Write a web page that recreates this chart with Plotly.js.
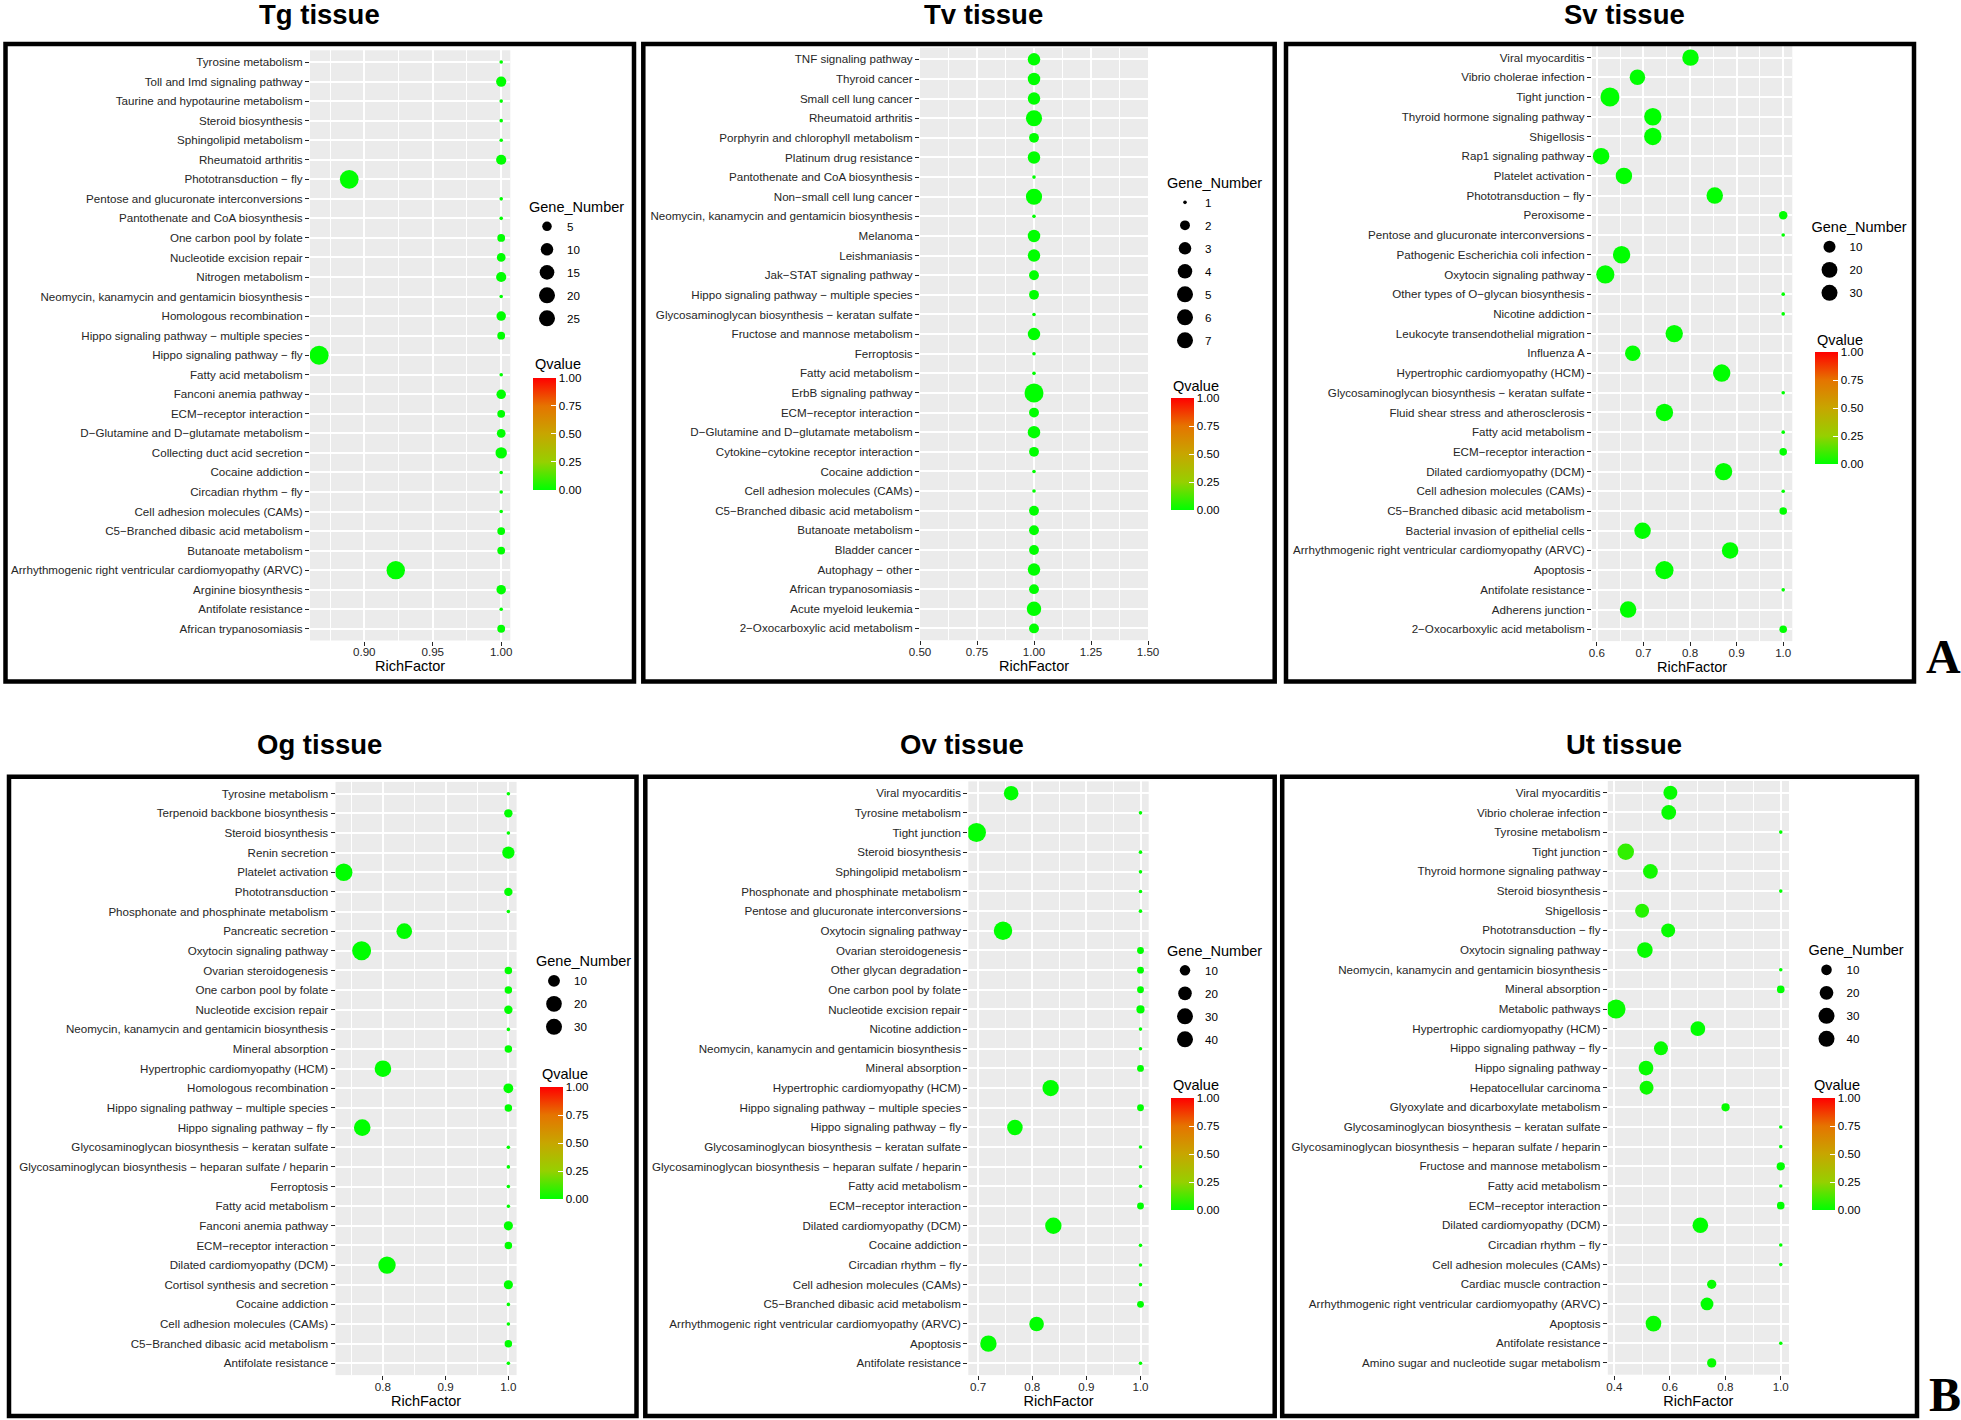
<!DOCTYPE html>
<html>
<head>
<meta charset="utf-8">
<script src="https://cdn.plot.ly/plotly-3.0.1.min.js"></script>
<style>body{margin:0;background:#fff;}</style>
</head>
<body>
<div id="chart" style="width:1961px;height:1420px"></div>
<script>
// ---- Tg tissue ----
var tgPathways = ["Tyrosine metabolism","Toll and Imd signaling pathway","Taurine and hypotaurine metabolism","Steroid biosynthesis","Sphingolipid metabolism","Rheumatoid arthritis","Phototransduction \u2212 fly","Pentose and glucuronate interconversions","Pantothenate and CoA biosynthesis","One carbon pool by folate","Nucleotide excision repair","Nitrogen metabolism","Neomycin, kanamycin and gentamicin biosynthesis","Homologous recombination","Hippo signaling pathway \u2212 multiple species","Hippo signaling pathway \u2212 fly","Fatty acid metabolism","Fanconi anemia pathway","ECM\u2212receptor interaction","D\u2212Glutamine and D\u2212glutamate metabolism","Collecting duct acid secretion","Cocaine addiction","Circadian rhythm \u2212 fly","Cell adhesion molecules (CAMs)","C5\u2212Branched dibasic acid metabolism","Butanoate metabolism","Arrhythmogenic right ventricular cardiomyopathy (ARVC)","Arginine biosynthesis","Antifolate resistance","African trypanosomiasis"];
var tgRich = [1,1,1,1,1,1,0.889,1,1,1,1,1,1,1,1,0.867,1,1,1,1,1,1,1,1,1,1,0.923,1,1,1];
var tgGenes = [1,6,1,1,1,6,27,1,1,3,4,6,1,5,3,28,1,5,3,4,8,1,1,1,3,3,26,5,1,3];
var tgQ = [0,0,0,0,0,0,0,0,0,0,0,0,0,0,0,0,0,0,0,0,0,0,0,0,0,0,0,0,0,0];
var tgBreaks = [5,10,15,20,25];

// ---- Tv tissue ----
var tvPathways = ["TNF signaling pathway","Thyroid cancer","Small cell lung cancer","Rheumatoid arthritis","Porphyrin and chlorophyll metabolism","Platinum drug resistance","Pantothenate and CoA biosynthesis","Non\u2212small cell lung cancer","Neomycin, kanamycin and gentamicin biosynthesis","Melanoma","Leishmaniasis","Jak\u2212STAT signaling pathway","Hippo signaling pathway \u2212 multiple species","Glycosaminoglycan biosynthesis \u2212 keratan sulfate","Fructose and mannose metabolism","Ferroptosis","Fatty acid metabolism","ErbB signaling pathway","ECM\u2212receptor interaction","D\u2212Glutamine and D\u2212glutamate metabolism","Cytokine\u2212cytokine receptor interaction","Cocaine addiction","Cell adhesion molecules (CAMs)","C5\u2212Branched dibasic acid metabolism","Butanoate metabolism","Bladder cancer","Autophagy \u2212 other","African trypanosomiasis","Acute myeloid leukemia","2\u2212Oxocarboxylic acid metabolism"];
var tvRich = [1,1,1,1,1,1,1,1,1,1,1,1,1,1,1,1,1,1,1,1,1,1,1,1,1,1,1,1,1,1];
var tvGenes = [3,3,3,5,2,3,1,5,1,3,3,2,2,1,3,1,1,7,2,3,2,1,1,2,2,2,3,2,4,2];
var tvQ = [0,0,0,0,0,0,0,0,0,0,0,0,0,0,0,0,0,0,0,0,0,0,0,0,0,0,0,0,0,0];
var tvBreaks = [1,2,3,4,5,6,7];

// ---- Sv tissue ----
var svPathways = ["Viral myocarditis","Vibrio cholerae infection","Tight junction","Thyroid hormone signaling pathway","Shigellosis","Rap1 signaling pathway","Platelet activation","Phototransduction \u2212 fly","Peroxisome","Pentose and glucuronate interconversions","Pathogenic Escherichia coli infection","Oxytocin signaling pathway","Other types of O\u2212glycan biosynthesis","Nicotine addiction","Leukocyte transendothelial migration","Influenza A","Hypertrophic cardiomyopathy (HCM)","Glycosaminoglycan biosynthesis \u2212 keratan sulfate","Fluid shear stress and atherosclerosis","Fatty acid metabolism","ECM\u2212receptor interaction","Dilated cardiomyopathy (DCM)","Cell adhesion molecules (CAMs)","C5\u2212Branched dibasic acid metabolism","Bacterial invasion of epithelial cells","Arrhythmogenic right ventricular cardiomyopathy (ARVC)","Apoptosis","Antifolate resistance","Adherens junction","2\u2212Oxocarboxylic acid metabolism"];
var svRich = [0.801,0.687,0.628,0.720,0.720,0.609,0.658,0.853,1,1,0.653,0.618,1,1,0.766,0.677,0.868,1,0.745,1,1,0.872,1,1,0.698,0.886,0.745,1,0.667,1];
var svGenes = [22,19,31,25,25,22,22,22,4,1,25,28,1,1,25,19,25,1,25,1,3,25,1,3,22,22,28,1,22,3];
var svQ = [0,0,0,0,0,0,0,0,0,0,0,0,0,0,0,0,0,0,0,0,0,0,0,0,0,0,0,0,0,0];
var svBreaks = [10,20,30];

// ---- Og tissue ----
var ogPathways = ["Tyrosine metabolism","Terpenoid backbone biosynthesis","Steroid biosynthesis","Renin secretion","Platelet activation","Phototransduction","Phosphonate and phosphinate metabolism","Pancreatic secretion","Oxytocin signaling pathway","Ovarian steroidogenesis","One carbon pool by folate","Nucleotide excision repair","Neomycin, kanamycin and gentamicin biosynthesis","Mineral absorption","Hypertrophic cardiomyopathy (HCM)","Homologous recombination","Hippo signaling pathway \u2212 multiple species","Hippo signaling pathway \u2212 fly","Glycosaminoglycan biosynthesis \u2212 keratan sulfate","Glycosaminoglycan biosynthesis \u2212 heparan sulfate / heparin","Ferroptosis","Fatty acid metabolism","Fanconi anemia pathway","ECM\u2212receptor interaction","Dilated cardiomyopathy (DCM)","Cortisol synthesis and secretion","Cocaine addiction","Cell adhesion molecules (CAMs)","C5\u2212Branched dibasic acid metabolism","Antifolate resistance"];
var ogRich = [1,1,1,1,0.7375,1,1,0.834,0.766,1,1,1,1,1,0.8,1,1,0.767,1,1,1,1,1,1,0.8065,1,1,1,1,1];
var ogGenes = [1,4,1,11,26,4,1,20,32,3,3,4,1,3,23,6,3,23,1,1,1,1,5,3,26,5,1,1,3,1];
var ogQ = [0,0,0,0,0,0,0,0,0,0,0,0,0,0,0,0,0,0,0,0,0,0,0,0,0,0,0,0,0,0];
var ogBreaks = [10,20,30];

// ---- Ov tissue ----
var ovPathways = ["Viral myocarditis","Tyrosine metabolism","Tight junction","Steroid biosynthesis","Sphingolipid metabolism","Phosphonate and phosphinate metabolism","Pentose and glucuronate interconversions","Oxytocin signaling pathway","Ovarian steroidogenesis","Other glycan degradation","One carbon pool by folate","Nucleotide excision repair","Nicotine addiction","Neomycin, kanamycin and gentamicin biosynthesis","Mineral absorption","Hypertrophic cardiomyopathy (HCM)","Hippo signaling pathway \u2212 multiple species","Hippo signaling pathway \u2212 fly","Glycosaminoglycan biosynthesis \u2212 keratan sulfate","Glycosaminoglycan biosynthesis \u2212 heparan sulfate / heparin","Fatty acid metabolism","ECM\u2212receptor interaction","Dilated cardiomyopathy (DCM)","Cocaine addiction","Circadian rhythm \u2212 fly","Cell adhesion molecules (CAMs)","C5\u2212Branched dibasic acid metabolism","Arrhythmogenic right ventricular cardiomyopathy (ARVC)","Apoptosis","Antifolate resistance"];
var ovRich = [0.761,1,0.697,1,1,1,1,0.746,1,1,1,1,1,1,1,0.834,1,0.768,1,1,1,1,0.839,1,1,1,1,0.808,0.719,1];
var ovGenes = [24,1,46,1,1,1,1,43,3,3,3,5,1,1,3,32,3,28,1,1,1,3,32,1,1,1,3,24,32,1];
var ovQ = [0,0,0,0,0,0,0,0,0,0,0,0,0,0,0,0,0,0,0,0,0,0,0,0,0,0,0,0,0,0];
var ovBreaks = [10,20,30,40];

// ---- Ut tissue ----
var utPathways = ["Viral myocarditis","Vibrio cholerae infection","Tyrosine metabolism","Tight junction","Thyroid hormone signaling pathway","Steroid biosynthesis","Shigellosis","Phototransduction \u2212 fly","Oxytocin signaling pathway","Neomycin, kanamycin and gentamicin biosynthesis","Mineral absorption","Metabolic pathways","Hypertrophic cardiomyopathy (HCM)","Hippo signaling pathway \u2212 fly","Hippo signaling pathway","Hepatocellular carcinoma","Glyoxylate and dicarboxylate metabolism","Glycosaminoglycan biosynthesis \u2212 keratan sulfate","Glycosaminoglycan biosynthesis \u2212 heparan sulfate / heparin","Fructose and mannose metabolism","Fatty acid metabolism","ECM\u2212receptor interaction","Dilated cardiomyopathy (DCM)","Circadian rhythm \u2212 fly","Cell adhesion molecules (CAMs)","Cardiac muscle contraction","Arrhythmogenic right ventricular cardiomyopathy (ARVC)","Apoptosis","Antifolate resistance","Amino sugar and nucleotide sugar metabolism"];
var utRich = [0.602,0.596,1,0.441,0.530,1,0.500,0.594,0.510,1,1,0.406,0.701,0.568,0.514,0.516,0.801,1,1,1,1,1,0.710,1,1,0.751,0.734,0.541,1,0.751];
var utGenes = [21,24,1,32,24,1,21,21,28,1,4,45,24,21,24,21,5,1,1,5,1,4,28,1,1,7,17,28,1,7];
var utQ = [0.01,0.01,0,0.08,0.03,0,0.06,0.01,0.01,0,0,0.01,0,0.01,0.01,0.02,0.01,0,0,0,0,0,0,0,0,0.01,0,0.01,0,0.01];
var utBreaks = [10,20,30,40];

var W = 1961, H = 1420;
function px(x) { return x / W; }
function py(y) { return 1 - y / H; }

// panel placement in page pixels (plot area, frame box, title, legends)
var panels = [
  {name: "Tg tissue", cats: tgPathways, rich: tgRich, genes: tgGenes, q: tgQ, breaks: tgBreaks,
   dx: [310, 510.3], dy: [50.3, 640.5], box: [5.5, 44, 634, 681.5], title: [319, 15],
   leg: [527, 193], qt: [532.6, 364.5], cb: [532.6, 377.6], dtick: 0.05, fmt: ".2f"},
  {name: "Tv tissue", cats: tvPathways, rich: tvRich, genes: tvGenes, q: tvQ, breaks: tvBreaks,
   dx: [920, 1148], dy: [47.6, 640.2], box: [643.3, 44, 1274.7, 681.5], title: [983, 15],
   leg: [1165, 169], qt: [1170.6, 385.5], cb: [1170.6, 398], dtick: 0.25, fmt: ".2f"},
  {name: "Sv tissue", cats: svPathways, rich: svRich, genes: svGenes, q: svQ, breaks: svBreaks,
   dx: [1592, 1792.3], dy: [45.8, 641.1], box: [1286, 44, 1914, 681.5], title: [1624, 15],
   leg: [1809.5, 213.5], qt: [1815, 340], cb: [1815, 352], dtick: 0.1, fmt: ".1f"},
  {name: "Og tissue", cats: ogPathways, rich: ogRich, genes: ogGenes, q: ogQ, breaks: ogBreaks,
   dx: [335.5, 516.6], dy: [781.9, 1375.1], box: [9, 776.7, 636.5, 1416], title: [319.6, 744],
   leg: [534, 947.5], qt: [539.6, 1074], cb: [539.6, 1087], dtick: 0.1, fmt: ".1f"},
  {name: "Ov tissue", cats: ovPathways, rich: ovRich, genes: ovGenes, q: ovQ, breaks: ovBreaks,
   dx: [968.3, 1148.7], dy: [781.4, 1375.1], box: [645.3, 776.7, 1274.7, 1416], title: [962.4, 744],
   leg: [1165, 937], qt: [1171, 1085], cb: [1171, 1098], dtick: 0.1, fmt: ".1f"},
  {name: "Ut tissue", cats: utPathways, rich: utRich, genes: utGenes, q: utQ, breaks: utBreaks,
   dx: [1607.8, 1789], dy: [781, 1374.7], box: [1282.2, 776.7, 1917, 1416], title: [1624, 744],
   leg: [1806.5, 936.5], qt: [1812, 1084.5], cb: [1812, 1098], dtick: 0.2, fmt: ".1f"}
];

// ggplot2 default gradient low = green, high = red (Lab interpolation)
var qScale = [[0, "#00FF00"], [0.25, "#96D000"], [0.5, "#C7A600"], [0.75, "#E57400"], [1, "#FF0000"]];
var tickCol = "#262626";
var fontFam = "Liberation Sans, Arial, Helvetica, sans-serif";

// size like scale_size(): area_pal, range in px of diameter
function sizeScale(vmin, vmax) {
  return function(v) {
    if (vmax === vmin) return 11;
    return 3.6 + (19 - 3.6) * Math.sqrt((v - vmin) / (vmax - vmin));
  };
}

var data = [];
var layout = {
  width: W, height: H, autosize: false,
  margin: {l: 0, r: 0, t: 0, b: 0},
  paper_bgcolor: "#ffffff", plot_bgcolor: "#EBEBEB",
  font: {family: fontFam, color: "#000"},
  shapes: [], annotations: [], hovermode: "closest"
};

panels.forEach(function(p, i) {
  var n = i === 0 ? "" : String(i + 1);
  var xa = "x" + n, ya = "y" + n;
  var vmin = Math.min.apply(null, p.genes), vmax = Math.max.apply(null, p.genes);
  var sz = sizeScale(vmin, vmax);
  var rmin = Math.min.apply(null, p.rich), rmax = Math.max.apply(null, p.rich);
  var span = rmax - rmin;
  var xr = span === 0 ? [rmin - 0.5, rmax + 0.5] : [rmin - 0.05 * span, rmax + 0.05 * span];

  data.push({
    type: "scatter", mode: "markers",
    x: p.rich, y: p.cats, xaxis: xa, yaxis: ya,
    customdata: p.genes,
    hovertemplate: "%{y}<br>RichFactor: %{x}<br>Gene_Number: %{customdata}<extra></extra>",
    showlegend: false,
    marker: {
      size: p.genes.map(sz), sizemode: "diameter", opacity: 1,
      color: p.q, colorscale: qScale, cmin: 0, cmax: 1,
      line: {width: 0},
      showscale: true,
      colorbar: {
        x: px(p.cb[0]), xanchor: "left", y: py(p.cb[1]), yanchor: "top",
        len: 112, lenmode: "pixels", thickness: 22.5, thicknessmode: "pixels",
        xpad: 0, ypad: 0, outlinewidth: 0,
        tickvals: [0, 0.25, 0.5, 0.75, 1], tickformat: ".2f",
        ticks: "inside", ticklen: 5, tickcolor: "#ffffff", tickwidth: 1,
        tickfont: {size: 11.6, color: "#000"},
        title: {text: ""}
      }
    }
  });

  // Gene_Number legend keys
  p.breaks.forEach(function(b) {
    data.push({
      type: "scatter", mode: "markers", x: [null], y: [null], xaxis: xa, yaxis: ya,
      name: String(b), legend: "legend" + n, legendgroup: "g" + i + "_" + b,
      showlegend: true, hoverinfo: "skip",
      marker: {size: sz(b), color: "#000000", line: {width: 0}}
    });
  });

  layout["xaxis" + n] = {
    domain: [px(p.dx[0]), px(p.dx[1])], anchor: ya, range: xr,
    dtick: p.dtick, tick0: 0, tickformat: p.fmt,
    showgrid: true, gridcolor: "#ffffff", gridwidth: 2,
    minor: {dtick: p.dtick / 2, showgrid: true, gridcolor: "#ffffff", gridwidth: 1},
    zeroline: false, showline: false,
    ticks: "outside", ticklen: 4, tickcolor: tickCol, tickwidth: 1,
    ticklabelstandoff: -3,
    tickfont: {size: 11.6, color: tickCol},
    title: {text: "RichFactor", font: {size: 14.5, color: "#000"}, standoff: 3},
    fixedrange: true
  };
  layout["yaxis" + n] = {
    domain: [py(p.dy[1]), py(p.dy[0])], anchor: xa,
    type: "category", categoryorder: "array", categoryarray: p.cats,
    range: [p.cats.length - 0.4, -0.6],
    showgrid: true, gridcolor: "#ffffff", gridwidth: 2,
    zeroline: false, showline: false,
    ticks: "outside", ticklen: 4, tickcolor: tickCol, tickwidth: 1,
    tickfont: {size: 11.6, color: tickCol},
    fixedrange: true
  };
  layout["legend" + n] = {
    x: px(p.leg[0]), xanchor: "left", y: py(p.leg[1]), yanchor: "top",
    title: {text: "Gene_Number", font: {size: 14.5, color: "#000"}},
    font: {size: 11.6, color: "#000"},
    bgcolor: "rgba(0,0,0,0)", borderwidth: 0,
    tracegroupgap: 4, itemsizing: "trace", itemclick: false, itemdoubleclick: false
  };

  // frame around each panel
  layout.shapes.push({
    type: "rect", xref: "paper", yref: "paper",
    x0: px(p.box[0]), x1: px(p.box[2]), y0: py(p.box[3]), y1: py(p.box[1]),
    line: {color: "#000", width: 4.5}, fillcolor: "rgba(0,0,0,0)", layer: "above"
  });
  // panel title
  layout.annotations.push({
    xref: "paper", yref: "paper", x: px(p.title[0]), y: py(p.title[1]),
    xanchor: "center", yanchor: "middle", showarrow: false,
    text: "<b>" + p.name + "</b>", font: {size: 27.5, color: "#000"}
  });
  // colourbar title
  layout.annotations.push({
    xref: "paper", yref: "paper", x: px(p.qt[0]), y: py(p.qt[1]),
    xanchor: "left", yanchor: "middle", showarrow: false,
    text: "Qvalue", font: {size: 14.5, color: "#000"}
  });
});

// figure part letters
layout.annotations.push({
  xref: "paper", yref: "paper", x: px(1943.5), y: py(657), xanchor: "center", yanchor: "middle",
  showarrow: false, text: "<b>A</b>", font: {family: "Liberation Serif, Times New Roman, serif", size: 48, color: "#000"}
});
layout.annotations.push({
  xref: "paper", yref: "paper", x: px(1945), y: py(1394), xanchor: "center", yanchor: "middle",
  showarrow: false, text: "<b>B</b>", font: {family: "Liberation Serif, Times New Roman, serif", size: 48, color: "#000"}
});

var config = {
  displayModeBar: false,
  responsive: false,
  staticPlot: false
};
Plotly.newPlot("chart", data, layout, config);
</script>
</body>
</html>
